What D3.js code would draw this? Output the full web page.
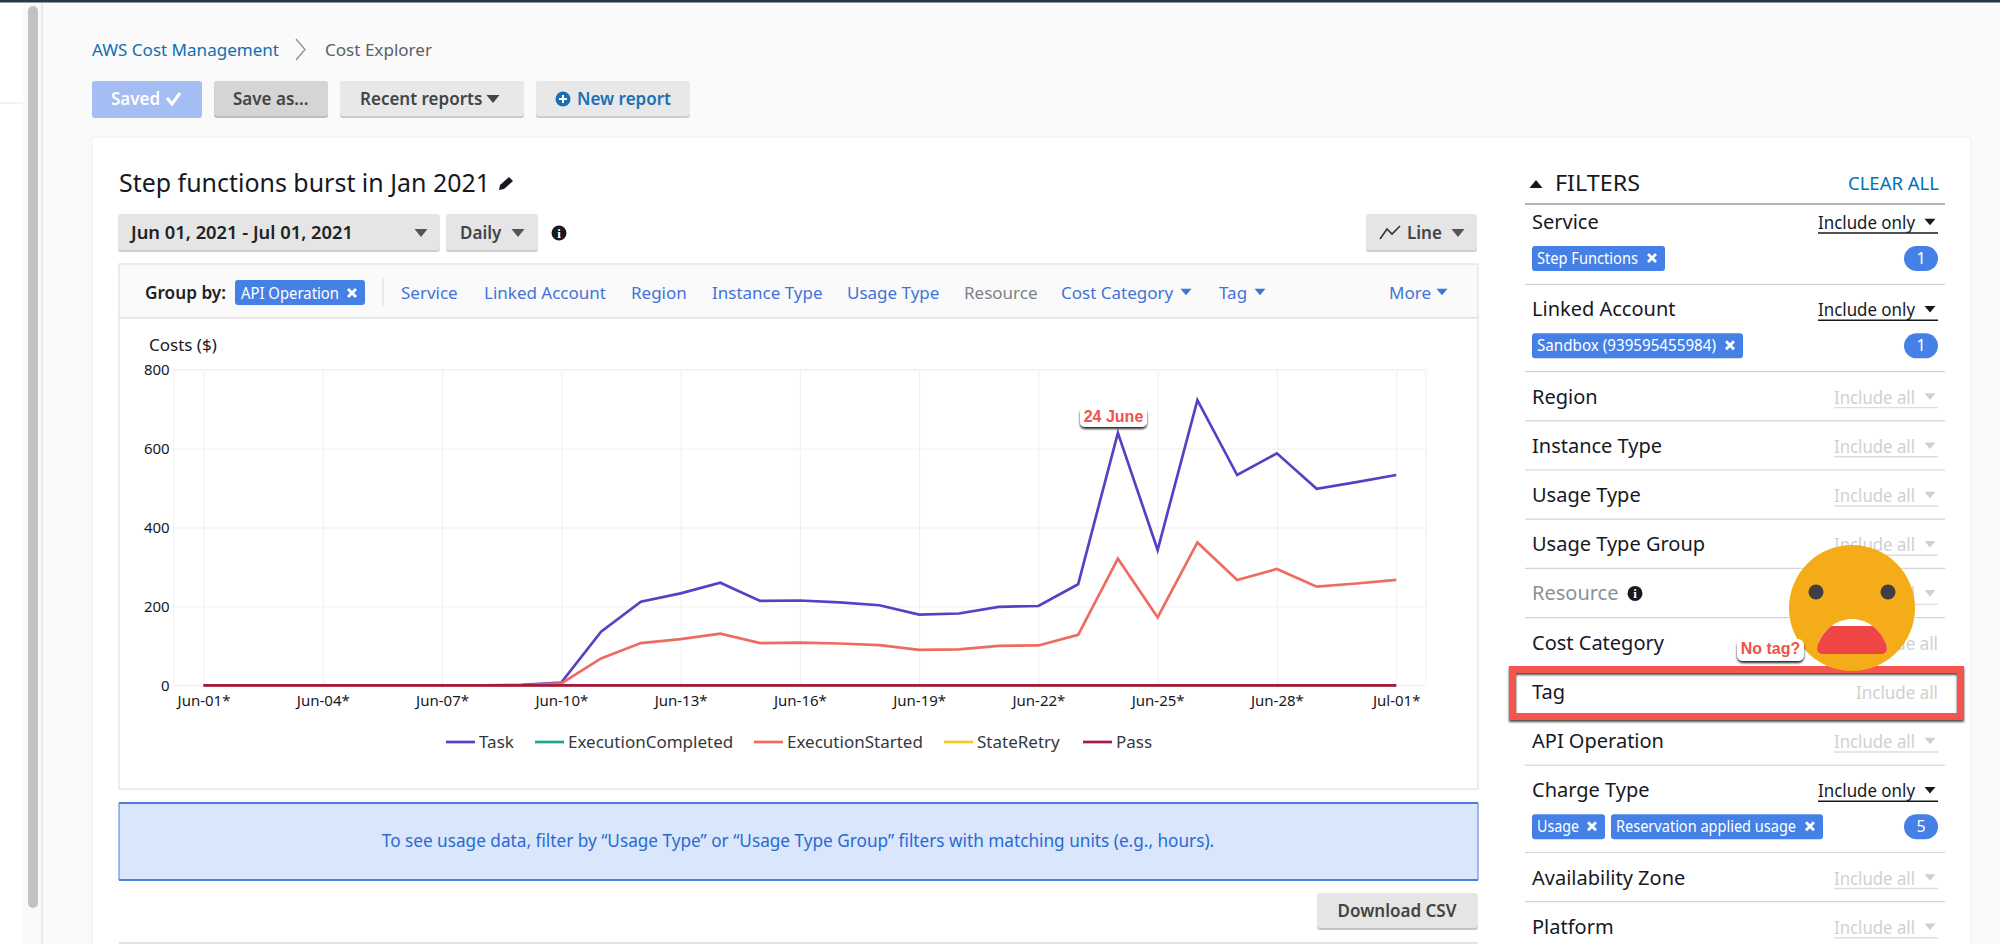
<!doctype html>
<html>
<head>
<meta charset="utf-8">
<script src="https://cdn.jsdelivr.net/npm/d3@7"></script>
<style>
	html, body { margin: 0; padding: 0; background: #fafafa; overflow: hidden; }
	svg { display: block; }
	text { font-family: 'Noto Sans', sans-serif; }
</style>
</head>
<body>
<svg id="page" width="2000" height="944"></svg>
<script>
const days = [
	'Jun-01', 'Jun-02', 'Jun-03', 'Jun-04', 'Jun-05', 'Jun-06', 'Jun-07', 'Jun-08', 'Jun-09', 'Jun-10',
	'Jun-11', 'Jun-12', 'Jun-13', 'Jun-14', 'Jun-15', 'Jun-16', 'Jun-17', 'Jun-18', 'Jun-19', 'Jun-20',
	'Jun-21', 'Jun-22', 'Jun-23', 'Jun-24', 'Jun-25', 'Jun-26', 'Jun-27', 'Jun-28', 'Jun-29', 'Jun-30', 'Jul-01',
];
const xTickDays = ['Jun-01', 'Jun-04', 'Jun-07', 'Jun-10', 'Jun-13', 'Jun-16', 'Jun-19', 'Jun-22', 'Jun-25', 'Jun-28', 'Jul-01'];
const yTicks = [0, 200, 400, 600, 800];

const task = [0, 0, 0, 0, 0, 0, 0, 0, 1, 7, 136, 212, 233, 260, 214, 215, 210, 203, 179, 182, 199, 201, 256, 640, 343, 723, 533, 588, 498, 515, 533];
const executionCompleted = [0, 0, 0, 0, 0, 0, 0, 0, 0, 0, 0, 0, 0, 0, 0, 0, 0, 0, 0, 0, 0, 0, 0, 0, 0, 0, 0, 0, 0, 0, 0];
const executionStarted = [0, 0, 0, 0, 0, 0, 0, 0, 0, 5, 68, 107, 117, 131, 107, 108, 106, 102, 90, 91, 100, 101, 128, 321, 172, 362, 267, 295, 250, 258, 267];
const stateRetry = [0, 0, 0, 0, 0, 0, 0, 0, 0, 0, 0, 0, 0, 0, 0, 0, 0, 0, 0, 0, 0, 0, 0, 0, 0, 0, 0, 0, 0, 0, 0];
const pass = [0, 0, 0, 0, 0, 0, 0, 0, 0, 0, 0, 0, 0, 0, 0, 0, 0, 0, 0, 0, 0, 0, 0, 0, 0, 0, 0, 0, 0, 0, 0];

const seriesNames = ['Task', 'ExecutionCompleted', 'ExecutionStarted', 'StateRetry', 'Pass'];
const seriesValues = [task, executionCompleted, executionStarted, stateRetry, pass];
const seriesColors = ['#5a3fc4', '#1fa593', '#ee6c5f', '#f7c81e', '#a5174f'];

const groupLinks = ['Service', 'Linked Account', 'Region', 'Instance Type', 'Usage Type', 'Resource', 'Cost Category', 'Tag', 'More'];
const filterNames = ['Service', 'Linked Account', 'Region', 'Instance Type', 'Usage Type', 'Usage Type Group', 'Resource', 'Cost Category', 'Tag', 'API Operation', 'Charge Type', 'Availability Zone', 'Platform'];
const filterChips = [['Step Functions'], ['Sandbox (939595455984)'], [], [], [], [], [], [], [], [], ['Usage', 'Reservation applied usage'], [], []];
const filterCounts = [1, 1, 0, 0, 0, 0, 0, 0, 0, 0, 5, 0, 0];

const svg = d3.select('#page');

const defs = svg.append('defs');
defs.append('filter').attr('id', 'label-shadow').attr('x', '-20%').attr('y', '-30%').attr('width', '140%').attr('height', '180%')
	.append('feDropShadow').attr('dx', 0).attr('dy', 2).attr('stdDeviation', 1).attr('flood-color', '#000').attr('flood-opacity', 0.85);
defs.append('filter').attr('id', 'box-shadow').attr('x', '-5%').attr('y', '-20%').attr('width', '110%').attr('height', '140%')
	.append('feDropShadow').attr('dx', 0).attr('dy', 2).attr('stdDeviation', 1.2).attr('flood-color', '#000').attr('flood-opacity', 0.7);
defs.append('clipPath').attr('id', 'mouth-clip')
	.append('rect').attr('x', 1810).attr('y', 626).attr('width', 90).attr('height', 40);

function addText(parent, x, y, str, size, color, opts = {}) {
	const el = parent.append('text')
		.attr('x', x)
		.attr('y', y)
		.attr('font-size', size)
		.attr('fill', color)
		.attr('font-weight', opts.weight || 400)
		.attr('text-anchor', opts.anchor || 'start')
		.text(str);

	if (opts.family) {
		el.style('font-family', opts.family);
	}

	// The original face is narrower than any installed one, so squeeze to the measured width.
	if (opts.fit) {
		el.attr('textLength', opts.fit).attr('lengthAdjust', 'spacingAndGlyphs');
	}

	return el;
}

function addRect(parent, x, y, w, h, fill, rx = 0) {
	return parent.append('rect').attr('x', x).attr('y', y).attr('width', w).attr('height', h).attr('fill', fill).attr('rx', rx);
}

function addLine(parent, x1, y1, x2, y2, color, width = 1) {
	return parent.append('line').attr('x1', x1).attr('y1', y1).attr('x2', x2).attr('y2', y2).attr('stroke', color).attr('stroke-width', width);
}

function caret(parent, x, y, w, color, up = false) {
	const h = w * 0.6;
	const d = up
		? `M${x - w / 2},${y + h / 2}L${x + w / 2},${y + h / 2}L${x},${y - h / 2}Z`
		: `M${x - w / 2},${y - h / 2}L${x + w / 2},${y - h / 2}L${x},${y + h / 2}Z`;
	return parent.append('path').attr('d', d).attr('fill', color);
}

function closeMark(parent, x, y, size = 4) {
	parent.append('path')
		.attr('d', `M${x - size},${y - size}L${x + size},${y + size}M${x + size},${y - size}L${x - size},${y + size}`)
		.attr('stroke', '#fff').attr('stroke-width', 2.8).attr('fill', 'none');
}

function infoIcon(parent, x, y) {
	parent.append('circle').attr('cx', x).attr('cy', y).attr('r', 7.5).attr('fill', '#16191f');
	addText(parent, x, y + 5, 'i', 13, '#fff', { anchor: 'middle', weight: 700, family: 'Liberation Serif' });
}

function button(parent, x, y, w, h, fill, edge) {
	addRect(parent, x, y + 2, w, h, edge, 3);
	addRect(parent, x, y, w, h, fill, 3);
}

function chip(parent, x, y, w, label, labelWidth) {
	addRect(parent, x, y, w, 25, '#4580e6', 3);
	addText(parent, x + 5, y + 18, label, 15.5, '#fff', { fit: labelWidth });
	closeMark(parent, x + w - 13, y + 12);
}

function drawChrome() {
	const g = svg.append('g').attr('class', 'chrome');

	addRect(g, 0, 0, 2000, 944, '#fafafa');
	addRect(g, 0, 0, 23, 944, '#ffffff');
	addLine(g, 0, 103, 23, 103, '#e6e6e6');
	addRect(g, 28, 6, 10, 902, '#c2c2c2', 5);
	addLine(g, 42, 3, 42, 944, '#e4e4e4', 1.5);
	addRect(g, 0, 0, 2000, 2.5, '#2a3746');

	addText(g, 92, 56, 'AWS Cost Management', 17, '#0f6fb0', { fit: 187 });
	g.append('path').attr('d', 'M296,39L305,49.5L296,60').attr('fill', 'none').attr('stroke', '#8a8f94').attr('stroke-width', 1.3);
	addText(g, 325, 56, 'Cost Explorer', 17, '#5b6166', { fit: 107 });

	button(g, 92, 81, 110, 35, '#a4bdf3', '#a4bdf3');
	addText(g, 111, 105, 'Saved', 17, '#fff', { weight: 600 });
	g.append('path').attr('d', 'M167,98L172,104L180,93').attr('fill', 'none').attr('stroke', '#fff').attr('stroke-width', 3);
	button(g, 214, 81, 114, 35, '#d5d5d5', '#bdbdbd');
	addText(g, 233, 105, 'Save as...', 17, '#444', { weight: 600 });
	button(g, 340, 81, 184, 35, '#e8e8e8', '#cccccc');
	addText(g, 360, 105, 'Recent reports', 17, '#444', { weight: 600 });
	caret(g, 493, 99, 13, '#444');
	button(g, 536, 81, 154, 35, '#e8e8e8', '#cccccc');
	g.append('circle').attr('cx', 563).attr('cy', 99).attr('r', 7.5).attr('fill', '#1a6fb5');
	g.append('path').attr('d', 'M559,99H567M563,95V103').attr('stroke', '#fff').attr('stroke-width', 2);
	addText(g, 577, 105, 'New report', 17, '#1a6fb5', { weight: 600 });

	addRect(g, 92, 137, 1879, 810, '#fff', 2).attr('stroke', '#eeeeee');

	addText(g, 119, 192, 'Step functions burst in Jan 2021', 26, '#16191f', { fit: 371 });
	g.append('path').attr('d', 'M499,190L500,185L509,177L513,181L504,189Z').attr('fill', '#16191f');

	button(g, 118, 214, 322, 36, '#e5e5e5', '#cfcfcf');
	addText(g, 131, 239, 'Jun 01, 2021 - Jul 01, 2021', 17.5, '#222', { weight: 600, fit: 222 });
	caret(g, 421, 233, 13, '#555');
	button(g, 446, 214, 92, 36, '#e5e5e5', '#cfcfcf');
	addText(g, 460, 239, 'Daily', 17, '#444', { weight: 600 });
	caret(g, 518, 233, 13, '#555');
	infoIcon(g, 559, 233);
	button(g, 1366, 214, 111, 36, '#e5e5e5', '#cfcfcf');
	g.append('path').attr('d', 'M1380,239L1387,229L1392,234L1400,226').attr('fill', 'none').attr('stroke', '#333').attr('stroke-width', 1.6);
	addText(g, 1407, 239, 'Line', 17, '#444', { weight: 600 });
	caret(g, 1458, 233, 13, '#555');

	addRect(g, 119, 264, 1359, 54, '#fafafa').attr('stroke', '#dcdcdc');
	addRect(g, 119, 318, 1359, 471, '#fff').attr('stroke', '#dcdcdc');

	addText(g, 145, 299, 'Group by:', 17, '#222', { weight: 600, fit: 81 });
	addRect(g, 235, 280, 130, 25, '#4580e6', 3);
	addText(g, 241, 299, 'API Operation', 15.5, '#fff', { fit: 98 });
	closeMark(g, 352, 293);
	addLine(g, 383, 278, 383, 306, '#dcdcdc');

	const linkStarts = [401, 484, 631, 712, 847, 964, 1061, 1219, 1389];
	const linkCarets = [0, 0, 0, 0, 0, 0, 1186, 1260, 1442];
	groupLinks.forEach((name, i) => {
		addText(g, linkStarts[i], 299, name, 17, name === 'Resource' ? '#7d8287' : '#4273d8');
		if (linkCarets[i]) {
			caret(g, linkCarets[i], 292, 11, '#4273d8');
		}
	});

	addRect(g, 119, 803, 1359, 77, '#d9e6fb');
	addLine(g, 119, 803, 1478, 803, '#4a7fdc', 2);
	addLine(g, 119, 880, 1478, 880, '#4a7fdc', 2);
	addLine(g, 119, 803, 119, 880, '#4a7fdc', 1);
	addLine(g, 1478, 803, 1478, 880, '#4a7fdc', 1);
	addText(g, 798, 847, 'To see usage data, filter by “Usage Type” or “Usage Type Group” filters with matching units (e.g., hours).', 17.2, '#2a6ad1', { anchor: 'middle' });

	button(g, 1317, 893, 161, 35, '#e5e5e5', '#c4c4c4');
	addText(g, 1397, 917, 'Download CSV', 17, '#444', { anchor: 'middle', weight: 600 });

	addRect(g, 119, 942, 1359, 2, '#e4e4e4');
}

function drawChart() {
	const g = svg.append('g').attr('class', 'chart');

	const x = d3.scalePoint().domain(days).range([173.7, 1426]).padding(0.75);
	const y = d3.scaleLinear().domain([0, 800]).range([685.3, 369.7]);

	g.append('rect').attr('x', 173.7).attr('y', 369.7).attr('width', 1252.3).attr('height', 315.6)
		.attr('fill', 'none').attr('stroke', '#f0f0f0');

	const xAxis = g.append('g')
		.attr('transform', 'translate(0,685.3)')
		.call(d3.axisBottom(x).tickValues(xTickDays).tickSize(-315.6).tickPadding(10).tickFormat(d => `${d}*`));
	const yAxis = g.append('g')
		.attr('transform', 'translate(173.7,0)')
		.call(d3.axisLeft(y).tickValues(yTicks).tickSize(-1252.3).tickPadding(4));

	[xAxis, yAxis].forEach(axis => {
		axis.select('.domain').remove();
		axis.selectAll('.tick line').attr('stroke', '#f0f0f0');
		axis.selectAll('.tick text').attr('font-size', 15).style('font-family', "'Noto Sans', sans-serif").attr('fill', '#16191f');
	});

	addText(g, 149, 351, 'Costs ($)', 17, '#16191f');

	const line = d3.line().x((d, i) => x(days[i])).y(d => y(d));
	seriesValues.forEach((values, i) => {
		g.append('path')
			.attr('d', line(values))
			.attr('fill', 'none')
			.attr('stroke', seriesColors[i])
			.attr('stroke-width', 2.7);
	});

	const legendSwatches = [446, 535, 754, 944, 1083];
	seriesNames.forEach((name, i) => {
		addLine(g, legendSwatches[i], 742, legendSwatches[i] + 29, 742, seriesColors[i], 2.7);
		addText(g, legendSwatches[i] + 33, 748, name, 17, '#33383d');
	});
}

function drawFilters() {
	const g = svg.append('g').attr('class', 'filters');

	caret(g, 1536, 184, 13, '#16191f', true);
	addText(g, 1555, 191, 'FILTERS', 22, '#16191f', { fit: 85 });
	addText(g, 1939, 190, 'CLEAR ALL', 18.5, '#0073bb', { anchor: 'end' });
	addLine(g, 1525, 204, 1945, 204, '#9a9a9a', 1.6);

	const chipWidths = { Usage: 73, 'Step Functions': 133, 'Sandbox (939595455984)': 211, 'Reservation applied usage': 212 };
	const chipLabelWidths = { Usage: 42, 'Step Functions': 101, 'Sandbox (939595455984)': 179, 'Reservation applied usage': 180 };

	let rowBottom = 197;
	filterNames.forEach((name, i) => {
		const chips = filterChips[i];
		const baseline = rowBottom + 32;
		const labelColor = name === 'Resource' ? '#8c9196' : '#16191f';

		addText(g, 1532, baseline, name, 20, labelColor);

		if (name === 'Resource') {
			infoIcon(g, 1635, baseline - 7);
		}

		if (chips.length) {
			addText(g, 1818, baseline, 'Include only', 18, '#16191f', { fit: 97 });
			addLine(g, 1818, baseline + 4, 1938, baseline + 4, '#16191f', 1.4);
			caret(g, 1930, baseline - 7, 11, '#16191f');

			let chipX = 1532;
			chips.forEach(label => {
				chip(g, chipX, baseline + 17, chipWidths[label], label, chipLabelWidths[label]);
				chipX += chipWidths[label] + 6;
			});
			addRect(g, 1904, baseline + 17, 34, 25, '#4580e6', 12.5);
			addText(g, 1921, baseline + 35, filterCounts[i], 16, '#fff', { anchor: 'middle' });
			rowBottom = baseline + 55.3;
		} else {
			if (name === 'Cost Category' || name === 'Tag') {
				addText(g, 1938, baseline, 'Include all', 18, '#d0d0d0', { anchor: 'end', fit: 82 });
			} else {
				addText(g, 1834, baseline, 'Include all', 18, '#d0d0d0', { fit: 81 });
				addLine(g, 1834, baseline + 4, 1938, baseline + 4, '#dddddd', 1.4);
				caret(g, 1930, baseline - 7, 11, '#d0d0d0');
			}
			rowBottom = baseline + 17.2;
		}

		if (name !== 'Platform') {
			addLine(g, 1525, rowBottom, 1945, rowBottom, '#d4d4d4', 1.2);
		}
	});
}

function drawAnnotations() {
	const g = svg.append('g').attr('class', 'annotations');

	addRect(g, 1080, 407, 67, 20, '#fff', 5).attr('filter', 'url(#label-shadow)');
	addText(g, 1113.5, 421.5, '24 June', 16, '#f0524b', { anchor: 'middle', weight: 700, family: 'Liberation Sans' });

	g.append('rect').attr('x', 1512.5).attr('y', 669.5).attr('width', 448).attr('height', 47)
		.attr('fill', 'none').attr('stroke', '#f4574f').attr('stroke-width', 7)
		.attr('filter', 'url(#box-shadow)');

	g.append('circle').attr('cx', 1852).attr('cy', 608).attr('r', 63).attr('fill', '#f4ad19');
	g.selectAll('.eye').data([1816, 1888]).join('circle')
		.attr('class', 'eye').attr('cx', d => d).attr('cy', 592).attr('r', 7.5).attr('fill', '#3f3f46');

	const mouth = 'M1823,654C1817,654 1816,649 1818,644C1824,628 1838,619 1852,619C1866,619 1880,628 1886,644C1888,649 1887,654 1881,654Z';
	g.append('path').attr('d', mouth).attr('fill', '#fff');
	g.append('path').attr('d', mouth).attr('fill', '#f04545').attr('clip-path', 'url(#mouth-clip)');

	addRect(g, 1737, 639, 67, 22, '#fff', 6).attr('filter', 'url(#label-shadow)');
	addText(g, 1770.5, 654, 'No tag?', 16, '#f0524b', { anchor: 'middle', weight: 700, family: 'Liberation Sans' });
}

drawChrome();
drawChart();
drawFilters();
drawAnnotations();
</script>
</body>
</html>
